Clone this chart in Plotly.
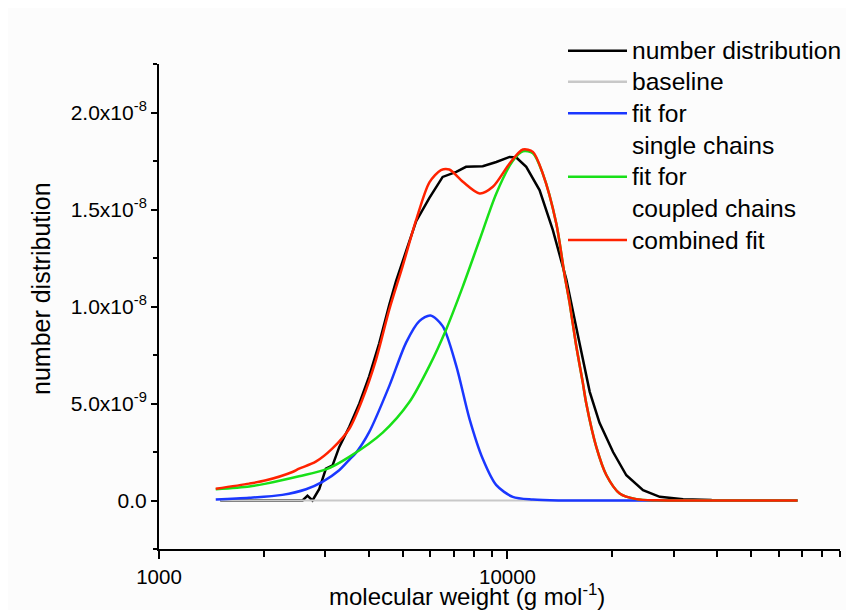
import plotly.graph_objects as go

SCALE = 1e-9  # values below are in units of 1e-9

# number distribution (measured)
mw_data = [1500, 2582, 2667, 2757, 2884, 3013, 3148, 3289, 3516, 3758, 4009, 4285, 4581,
           4786, 5117, 5470, 5970, 6516, 7129, 7603, 8492, 9290, 10140, 10600, 11320,
           12360, 13490, 14750, 16100, 17220, 18370, 20090, 21930, 24490, 27350, 31920, 38550]
nd_data = [0, 0, 0.25, 0, 0.6, 1.64, 1.81, 2.75, 3.8, 5.0, 6.4, 8.1, 10.1,
           11.3, 12.85, 14.4, 15.6, 16.68, 16.94, 17.2, 17.23, 17.45, 17.71, 17.68, 17.2,
           16.0, 13.95, 11.4, 8.1, 5.6, 4.0, 2.5, 1.3, 0.53, 0.19, 0.07, 0.02]

# baseline
mw_base = [1500, 38550]
nd_base = [0, 0]

# fit for single chains
mw_single = [1455, 1816, 2259, 2642, 2944, 3289, 3516, 3673, 4009, 4581, 5117, 5585, 6012,
             6516, 7129, 7780, 8492, 9290, 10350, 11830, 14000, 20000, 30000, 68000]
nd_single = [0.05, 0.14, 0.29, 0.58, 0.96, 1.56, 2.1, 2.45, 3.52, 5.91, 8.14, 9.25, 9.54,
             8.99, 6.94, 4.21, 2.15, 0.79, 0.19, 0.05, 0, 0, 0, 0]

# fit for coupled chains
mw_coupled = [1455, 1816, 2028, 2523, 3013, 3516, 4385, 5224, 5970, 6668, 7447, 8318, 9290,
              10350, 11070, 11830, 12620, 13800, 14590, 15070, 15740, 16440, 16830, 17990,
              19230, 20990, 23440, 27000, 35000, 68000]
nd_coupled = [0.58, 0.72, 0.87, 1.25, 1.6, 2.25, 3.5, 5.06, 6.94, 8.82, 11.04, 13.44, 15.83,
              17.5, 18.0, 17.9, 16.86, 14.29, 11.6, 10.2, 8.0, 6.1, 5.0, 2.75,
              1.3, 0.36, 0.07, 0.01, 0, 0]

# combined fit
mw_comb = [1455, 1816, 2028, 2415, 2523, 2818, 3141, 3516, 3837, 4198, 4581, 5000, 5470,
           5970, 6442, 6808, 7447, 8318, 9078, 10140, 11070, 11830, 12620, 13800, 14590,
           15070, 15740, 16440, 16830, 17990, 19230, 20990, 23440, 27000, 35000, 68000]
nd_comb = [0.61, 0.87, 1.04, 1.47, 1.64, 2.0, 2.67, 3.7, 5.23, 7.28, 9.85, 12.07, 14.46,
           16.4, 17.03, 17.06, 16.43, 15.83, 16.17, 17.37, 18.09, 17.97, 16.86, 14.29, 11.6,
           10.2, 8.0, 6.1, 5.0, 2.75, 1.3, 0.36, 0.07, 0.01, 0, 0]

x_major = [1000, 10000]
x_major_text = ["1000", "10000"]
x_minor = [2000, 3000, 4000, 5000, 6000, 7000, 8000, 9000,
           20000, 30000, 40000, 50000, 60000, 70000, 80000, 90000]
y_major = [0, 5e-9, 1e-8, 1.5e-8, 2e-8]
y_major_text = ["0.0", "5.0x10<sup>-9</sup>", "1.0x10<sup>-8</sup>",
                "1.5x10<sup>-8</sup>", "2.0x10<sup>-8</sup>"]
y_minor = [-2.5e-9, 2.5e-9, 7.5e-9, 1.25e-8, 1.75e-8, 2.25e-8]

legend_names = ["number distribution", "baseline", "fit for<br>single chains",
                "fit for<br>coupled chains", "combined fit"]
colors = ["#000000", "#c8c8c8", "#1a37ff", "#18e018", "#ff2200"]

FONT = "Liberation Sans, Arial, sans-serif"

fig = go.Figure()
series = [(mw_data, nd_data, 2.5, "linear"),
          (mw_base, nd_base, 2.0, "linear"),
          (mw_single, nd_single, 2.5, "spline"),
          (mw_coupled, nd_coupled, 2.5, "spline"),
          (mw_comb, nd_comb, 2.5, "spline")]
for (xs, ys, w, shape), name, c in zip(series, legend_names, colors):
    fig.add_trace(go.Scatter(x=xs, y=[v * SCALE for v in ys], mode="lines", name=name,
                             line=dict(color=c, width=w, shape=shape, smoothing=0.8),
                             showlegend=False))

# page has an 8px body margin: figure is 846x602 drawn at (8, 8)
OFF = 8
FW, FH = 854 - OFF, 610 - OFF
L, R, T, B = 159 - OFF, 854 - 840, 64 - OFF, 610 - 549
W, H = FW - L - R, FH - T - B
def px(xp):
    return (xp - OFF - L) / W
def py(yp):
    return (FH - B - (yp - OFF)) / H

rows = [50.7, 81.7, 113.3, 145.0, 176.7, 208.0, 240.0]
line_rows = [0, 1, 2, 4, 6]
texts = ["number distribution", "baseline", "fit for", "single chains", "fit for",
         "coupled chains", "combined fit"]
for i, c in zip(line_rows, colors):
    fig.add_shape(type="line", xref="paper", yref="paper", x0=px(568), x1=px(627),
                  y0=py(rows[i]), y1=py(rows[i]), line=dict(color=c, width=2.5))
for r, t in zip(rows, texts):
    fig.add_annotation(text=t, xref="paper", yref="paper", x=px(630), y=py(r),
                       xanchor="left", yanchor="middle", showarrow=False,
                       font=dict(family=FONT, size=24.6, color="black"))

fig.add_annotation(text="molecular weight (g mol<sup>-1</sup>)", xref="paper", yref="paper",
                   x=px(467), y=py(595), xanchor="center", yanchor="middle", showarrow=False,
                   font=dict(family=FONT, size=24, color="black"))
fig.add_annotation(text="number distribution", xref="paper", yref="paper",
                   x=px(41), y=py(289), xanchor="center", yanchor="middle", showarrow=False,
                   textangle=-90, font=dict(family=FONT, size=25, color="black"))

fig.update_layout(
    width=FW, height=FH,
    margin=dict(l=L, r=R, t=T, b=B, autoexpand=False),
    paper_bgcolor="#fcfcfc", plot_bgcolor="#fcfcfc",
    font=dict(family=FONT, size=21, color="black"),
    xaxis=dict(type="log", range=[3, 4.9542], showline=True, linewidth=2, linecolor="black",
               showgrid=False, zeroline=False, ticks="outside", ticklen=8, tickwidth=2,
               tickcolor="black", tickmode="array", tickvals=x_major, ticktext=x_major_text,
               automargin=False,
               minor=dict(tickmode="array", tickvals=x_minor, ticks="outside", ticklen=6,
                          tickwidth=2, tickcolor="black", showgrid=False),
               tickfont=dict(family=FONT, size=20.5, color="black")),
    yaxis=dict(range=[-2.5e-9, 2.25e-8], showline=True, linewidth=2, linecolor="black",
               showgrid=False, zeroline=False, ticks="outside", ticklen=6, tickwidth=2,
               tickcolor="black", tickmode="array", tickvals=y_major, ticktext=y_major_text,
               automargin=False,
               minor=dict(tickmode="array", tickvals=y_minor, ticks="outside", ticklen=4,
                          tickwidth=2, tickcolor="black", showgrid=False),
               tickfont=dict(family=FONT, size=21, color="black")),
)

fig.write_html("out.html")
